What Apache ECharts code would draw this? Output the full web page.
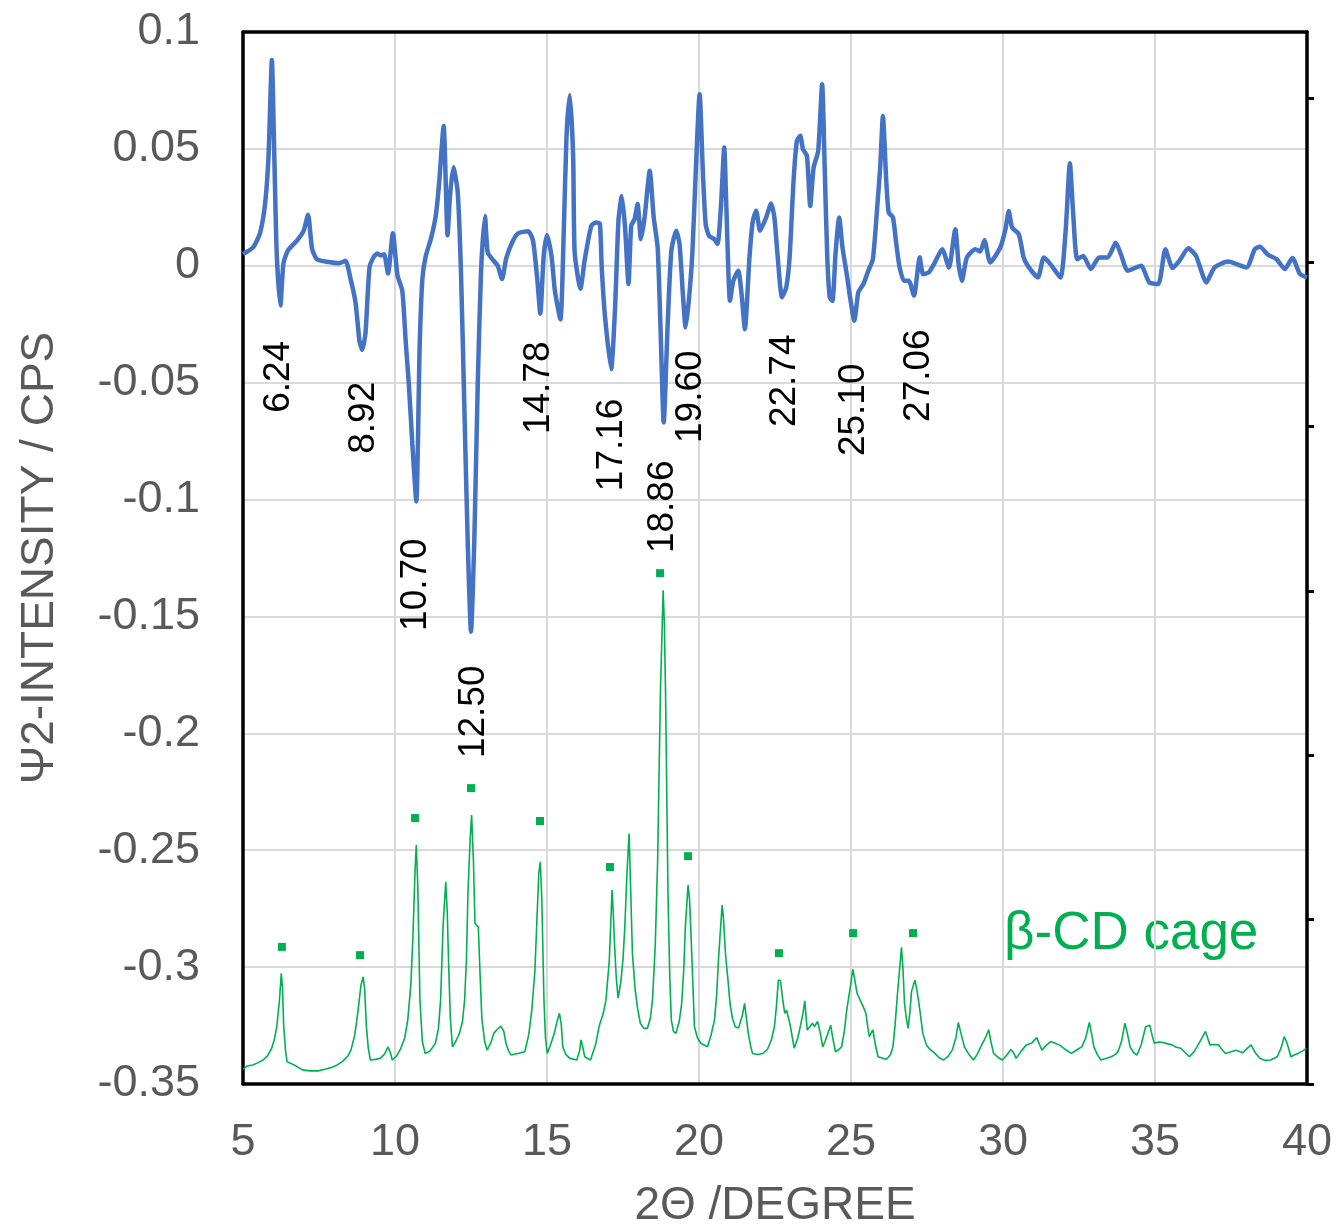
<!DOCTYPE html>
<html>
<head>
<meta charset="utf-8">
<script src="https://cdn.jsdelivr.net/npm/echarts@6/dist/echarts.min.js"></script>
<style>html,body{margin:0;padding:0;background:#fff}#c{width:1340px;height:1227px}</style>
</head>
<body>
<div id="c"></div>
<script>
// Ψ2 intensity (left axis), [2θ, value]
const psi2Data = [[5.0,0.005],[5.34,0.008],[5.56,0.014],[5.73,0.027],[5.84,0.047],[5.95,0.088],[6.03,0.047],[6.11,0.005],[6.23,-0.017],[6.33,0.001],[6.48,0.0066],[6.77,0.0107],[6.99,0.0148],[7.14,0.0218],[7.27,0.0074],[7.43,0.0028],[7.82,0.0016],[8.15,0.0011],[8.37,0.0021],[8.54,-0.0057],[8.70,-0.0156],[8.83,-0.032],[8.92,-0.036],[9.03,-0.0287],[9.16,-0.0008],[9.31,0.004],[9.42,0.0052],[9.53,0.0044],[9.64,0.0049],[9.77,-0.0033],[9.93,0.0139],[10.08,-0.004],[10.24,-0.0107],[10.35,-0.032],[10.46,-0.0516],[10.57,-0.0762],[10.70,-0.1008],[10.81,-0.0352],[10.90,-0.0057],[11.01,0.0041],[11.18,0.0115],[11.34,0.0213],[11.45,0.0352],[11.60,0.0598],[11.73,0.0131],[11.81,0.030],[11.92,0.0421],[12.06,0.032],[12.17,-0.0025],[12.28,-0.0598],[12.39,-0.117],[12.50,-0.1565],[12.61,-0.117],[12.72,-0.0516],[12.83,-0.0025],[12.96,0.0213],[13.05,0.0057],[13.22,0.0025],[13.38,0],[13.52,-0.0057],[13.66,0.0033],[13.88,0.0107],[14.05,0.0139],[14.38,0.0148],[14.54,0.0107],[14.68,-0.0057],[14.78,-0.0205],[14.89,0.004],[15.00,0.0131],[15.15,0.004],[15.26,-0.0107],[15.44,-0.023],[15.55,0.0139],[15.64,0.0549],[15.75,0.073],[15.86,0.047],[15.91,0.0057],[16.10,-0.0098],[16.24,0.0025],[16.46,0.0172],[16.63,0.0185],[16.74,0.018],[16.80,-0.0007],[16.91,-0.022],[17.11,-0.0442],[17.24,-0.0178],[17.35,0.0192],[17.46,0.0299],[17.57,0.016],[17.68,-0.0078],[17.77,0.0171],[17.88,0.0199],[17.98,0.0264],[18.09,0.0114],[18.21,0.0207],[18.38,0.0406],[18.51,0.0207],[18.64,0.0078],[18.73,-0.0249],[18.84,-0.067],[18.97,-0.0249],[19.09,0.0064],[19.25,0.015],[19.36,0.0093],[19.47,-0.0121],[19.56,-0.0264],[19.67,-0.0142],[19.78,0.005],[19.89,0.0392],[20.02,0.0734],[20.13,0.0392],[20.22,0.0178],[20.33,0.0128],[20.50,0.0114],[20.61,0.0093],[20.72,0.0249],[20.83,0.0506],[20.90,0.025],[21.02,-0.015],[21.13,-0.0064],[21.29,-0.0021],[21.40,-0.0121],[21.51,-0.0271],[21.66,0.0036],[21.77,0.0192],[21.88,0.0235],[22.01,0.015],[22.21,0.0207],[22.37,0.0266],[22.48,0.0207],[22.59,0.0036],[22.73,-0.0135],[22.87,-0.0093],[22.98,0.0036],[23.11,0.0363],[23.22,0.0534],[23.33,0.0556],[23.42,0.0499],[23.55,0.047],[23.66,0.0256],[23.77,0.042],[23.92,0.049],[24.05,0.0777],[24.14,0.0392],[24.22,0.0036],[24.30,-0.0135],[24.39,-0.015],[24.49,0.005],[24.61,0.0207],[24.72,0.0078],[24.86,-0.0036],[24.97,-0.0135],[25.11,-0.0235],[25.24,-0.0114],[25.41,-0.0078],[25.57,-0.0021],[25.72,0.0028],[25.87,0.0264],[25.96,0.042],[26.05,0.0641],[26.16,0.0363],[26.24,0.0228],[26.38,0.0207],[26.49,0.0093],[26.60,-0.0007],[26.74,-0.0064],[26.90,-0.0064],[27.07,-0.0128],[27.26,0.0036],[27.37,-0.0036],[27.56,-0.0028],[27.73,0.0007],[28.00,0.0071],[28.22,-0.0007],[28.43,0.0156],[28.54,0.0007],[28.65,-0.0064],[28.81,0.0035],[29.09,0.0071],[29.25,0.0061],[29.39,0.0109],[29.58,0.0014],[29.91,0.0078],[30.08,0.0156],[30.19,0.0234],[30.30,0.0163],[30.52,0.0135],[30.68,0.0035],[30.85,-0.0007],[31.15,-0.005],[31.34,0.0035],[31.56,0.0007],[31.89,-0.005],[32.06,0.0149],[32.20,0.0439],[32.31,0.022],[32.44,0.0028],[32.64,0.0042],[32.89,-0.0014],[33.16,0.0035],[33.44,0.0035],[33.71,0.0099],[33.88,0.0049],[34.10,-0.0021],[34.54,0],[34.81,-0.0071],[35.11,-0.0078],[35.34,0.0071],[35.58,-0.001],[35.80,0.0021],[36.10,0.0075],[36.35,0.0042],[36.69,-0.0071],[36.96,-0.0007],[37.40,0.0018],[38.01,-0.0007],[38.28,0.0071],[38.45,0.0081],[38.72,0.0047],[39.00,0.0028],[39.27,-0.0014],[39.52,0.0033],[39.77,-0.0035],[40.0,-0.005]];

// β-CD cage diffractogram (right axis, CPS), [2θ, counts]
const cageData = [[5.0,45],[5.15,55],[5.32,58],[5.5,65],[5.66,73],[5.8,85],[5.94,108],[6.03,135],[6.11,174],[6.20,255],[6.26,337],[6.30,290],[6.34,174],[6.40,100],[6.45,68],[6.68,58],[6.96,43],[7.2,40],[7.47,40],[7.7,45],[7.93,51],[8.1,58],[8.27,68],[8.45,85],[8.55,103],[8.68,150],[8.78,220],[8.88,300],[8.95,326],[9.0,290],[9.06,174],[9.12,110],[9.19,73],[9.35,75],[9.51,78],[9.65,90],[9.77,113],[9.85,95],[9.91,73],[10.05,85],[10.19,108],[10.32,140],[10.42,195],[10.52,300],[10.59,448],[10.66,650],[10.70,727],[10.75,600],[10.82,255],[10.9,130],[10.99,93],[11.15,100],[11.33,124],[11.43,170],[11.50,255],[11.58,478],[11.67,615],[11.72,520],[11.76,377],[11.82,200],[11.89,113],[12.0,130],[12.12,154],[12.22,190],[12.29,255],[12.35,380],[12.40,580],[12.47,740],[12.52,818],[12.58,680],[12.63,489],[12.74,478],[12.80,330],[12.86,195],[12.95,130],[13.03,103],[13.15,125],[13.25,154],[13.35,165],[13.48,176],[13.58,160],[13.65,124],[13.74,100],[13.82,88],[14.0,92],[14.15,95],[14.27,98],[14.4,150],[14.50,225],[14.6,340],[14.67,504],[14.73,640],[14.78,676],[14.83,560],[14.90,255],[14.95,140],[15.01,93],[15.12,120],[15.24,154],[15.33,190],[15.41,215],[15.47,180],[15.52,113],[15.62,90],[15.75,78],[15.98,73],[16.07,100],[16.12,134],[16.17,115],[16.24,83],[16.43,73],[16.6,120],[16.71,174],[16.85,215],[16.94,255],[17.05,377],[17.14,590],[17.18,520],[17.22,428],[17.28,320],[17.34,261],[17.43,311],[17.50,380],[17.56,478],[17.63,640],[17.70,762],[17.75,600],[17.81,397],[17.90,286],[17.98,230],[18.07,185],[18.18,170],[18.30,169],[18.40,200],[18.47,255],[18.56,420],[18.64,681],[18.73,1188],[18.82,1502],[18.86,1400],[18.90,1188],[18.98,580],[19.04,320],[19.09,195],[19.16,160],[19.24,154],[19.35,190],[19.43,245],[19.50,350],[19.55,478],[19.64,605],[19.69,560],[19.74,448],[19.80,300],[19.85,174],[19.95,140],[20.06,124],[20.18,118],[20.28,113],[20.40,150],[20.51,195],[20.58,270],[20.64,377],[20.76,544],[20.80,510],[20.87,397],[20.95,320],[21.02,245],[21.10,200],[21.19,174],[21.30,170],[21.36,174],[21.43,210],[21.50,245],[21.56,200],[21.62,154],[21.70,115],[21.76,93],[21.93,90],[22.10,93],[22.25,105],[22.38,134],[22.48,174],[22.55,240],[22.61,316],[22.68,314],[22.75,260],[22.82,215],[22.88,225],[22.93,230],[23.01,174],[23.13,109],[23.25,140],[23.33,174],[23.42,215],[23.48,253],[23.56,164],[23.65,175],[23.73,185],[23.80,175],[23.90,190],[24.00,150],[24.07,113],[24.15,130],[24.24,154],[24.33,179],[24.40,140],[24.49,98],[24.60,105],[24.69,113],[24.78,160],[24.86,225],[24.98,296],[25.06,349],[25.12,320],[25.20,276],[25.30,255],[25.38,240],[25.49,215],[25.55,175],[25.60,144],[25.66,150],[25.72,165],[25.80,120],[25.89,83],[26.05,78],[26.17,75],[26.30,90],[26.38,113],[26.45,180],[26.53,276],[26.60,350],[26.66,416],[26.71,350],[26.76,245],[26.82,200],[26.88,169],[26.94,220],[26.99,281],[27.10,316],[27.16,290],[27.22,255],[27.30,200],[27.36,154],[27.48,119],[27.60,105],[27.76,93],[27.90,80],[28.05,73],[28.20,85],[28.33,103],[28.45,140],[28.53,187],[28.60,160],[28.73,113],[28.88,90],[29.03,73],[29.15,90],[29.30,119],[29.42,140],[29.53,165],[29.60,130],[29.69,93],[29.85,80],[29.98,73],[30.10,85],[30.26,105],[30.35,95],[30.43,78],[30.60,100],[30.77,119],[30.95,125],[31.11,141],[31.20,120],[31.28,103],[31.45,120],[31.57,129],[31.70,125],[31.85,119],[32.05,105],[32.25,93],[32.45,105],[32.59,113],[32.72,140],[32.84,187],[32.92,150],[32.99,113],[33.10,90],[33.22,73],[33.40,78],[33.56,83],[33.70,90],[33.78,98],[33.90,130],[34.01,185],[34.10,150],[34.18,113],[34.30,95],[34.41,88],[34.55,120],[34.69,174],[34.83,179],[34.90,150],[34.98,124],[35.12,128],[35.27,126],[35.42,122],[35.56,119],[35.70,112],[35.84,109],[36.0,95],[36.13,83],[36.30,100],[36.51,134],[36.66,160],[36.75,135],[36.81,119],[36.95,120],[37.09,119],[37.20,105],[37.32,93],[37.50,98],[37.66,103],[37.80,98],[37.89,95],[38.05,110],[38.16,119],[38.30,95],[38.45,78],[38.60,72],[38.80,73],[39.02,83],[39.15,110],[39.25,144],[39.32,130],[39.38,113],[39.47,83],[39.58,88],[39.70,93],[39.85,100],[39.98,109]];

// reflection markers above the cage peaks (right axis)
const markerData = [[6.28,417],[8.85,392],[10.66,809],[12.50,900],[14.77,800],[17.07,660],[18.72,1554],[19.64,693],[22.63,398],[25.07,459],[27.04,459]];

// peak labels: text and anchor [2θ, Ψ2]
const peakLabels = ['6.24','8.92','10.70','12.50','14.78','17.16','18.86','19.60','22.74','25.10','27.06'];
const peakAnchors = [[6.17,-0.0475],[8.96,-0.065],[10.69,-0.1364],[12.60,-0.1908],[14.74,-0.0522],[17.14,-0.0766],[18.82,-0.1031],[19.74,-0.056],[22.83,-0.0492],[25.10,-0.0616],[27.24,-0.047]];

const xTicks = [5,10,15,20,25,30,35,40];
const rightTicks = [0,500,1000,1500,2000,2500,3000];

const FONT = '"Liberation Sans", Arial, sans-serif';
const GRAY = '#595959';

const chart = echarts.init(document.getElementById('c'), null, {renderer:'canvas'});
chart.setOption({
  animation:false,
  backgroundColor:'#fff',
  grid:{left:243, right:33, top:32, bottom:143, containLabel:false, outerBoundsMode:'none', show:false},
  xAxis:[{
    type:'value', min:xTicks[0], max:xTicks[xTicks.length-1], interval:5,
    name:'2Θ /DEGREE', nameLocation:'middle', nameGap:99,
    nameTextStyle:{fontFamily:FONT, fontSize:46, color:GRAY},
    axisLine:{show:true, onZero:false, lineStyle:{color:'#000', width:3.5}},
    axisTick:{show:false},
    axisLabel:{fontFamily:FONT, fontSize:45, color:GRAY, margin:36},
    splitLine:{show:true, lineStyle:{color:'#d9d9d9', width:2}}
  },{
    type:'value', position:'top', min:xTicks[0], max:xTicks[xTicks.length-1],
    axisLine:{show:true, onZero:false, lineStyle:{color:'#000', width:3.5}},
    axisTick:{show:false}, axisLabel:{show:false}, splitLine:{show:false}
  }],
  yAxis:[{
    type:'value', min:-0.35, max:0.1, interval:0.05,
    name:'Ψ2-INTENSITY / CPS', nameLocation:'middle', nameGap:180,
    nameTextStyle:{fontFamily:FONT, fontSize:46, color:GRAY},
    axisLine:{show:true, onZero:false, lineStyle:{color:'#000', width:3.5}},
    axisTick:{show:false},
    axisLabel:{fontFamily:FONT, fontSize:45, color:GRAY, margin:43,
      formatter:v=>String(Math.round(v*100)/100)},
    splitLine:{show:true, lineStyle:{color:'#d9d9d9', width:2}}
  },{
    type:'value', min:0, max:3200, position:'right',
    axisLine:{show:true, onZero:false, lineStyle:{color:'#000', width:3.5}},
    axisTick:{show:true, inside:false, length:7, customValues:rightTicks, lineStyle:{color:'#000', width:3}},
    axisLabel:{show:false},
    splitLine:{show:false}
  }],
  series:[
    {type:'line', data:cageData, yAxisIndex:1, showSymbol:false, symbol:'none',
      lineStyle:{color:'#00B050', width:1.6}, z:2},
    {type:'line', data:psi2Data, yAxisIndex:0, showSymbol:false, symbol:'none', smooth:0.2,
      lineStyle:{color:'#4472C4', width:4.5}, z:3},
    {type:'scatter', data:markerData, yAxisIndex:1, symbol:'rect', symbolSize:8,
      itemStyle:{color:'#00B050', opacity:1}, z:4},
    {type:'scatter', yAxisIndex:0, symbolSize:0, z:5, itemStyle:{opacity:1},
      data:peakAnchors.map((p,i)=>({value:p, name:peakLabels[i]})),
      label:{show:true, position:'inside', formatter:'{b}', rotate:90, opacity:1,
        fontFamily:FONT, fontSize:37, color:'#000', align:'center', verticalAlign:'middle'}}
  ],
  graphic:[{type:'text', left:1004, top:908, style:{text:'β-CD cage', fontFamily:FONT, fontSize:53, fill:'#00B050'}}]
});
</script>
</body>
</html>
